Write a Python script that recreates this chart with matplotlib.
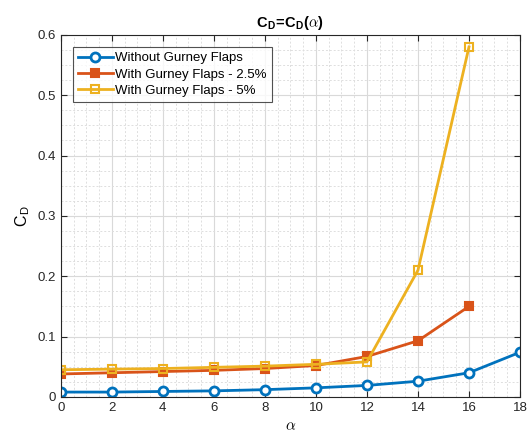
import matplotlib
matplotlib.use("Agg")
import matplotlib.pyplot as plt
from matplotlib.ticker import MultipleLocator

plt.rcParams['font.family'] = ['Liberation Sans', 'DejaVu Sans']
plt.rcParams['mathtext.fontset'] = 'cm'

alpha = [0, 2, 4, 6, 8, 10, 12, 14, 16, 18]
cd_without = [0.008, 0.008, 0.009, 0.010, 0.012, 0.015, 0.019, 0.026, 0.040, 0.074]
alpha_gf = [0, 2, 4, 6, 8, 10, 12, 14, 16]
cd_gf25 = [0.038, 0.040, 0.042, 0.044, 0.047, 0.052, 0.067, 0.093, 0.150]
cd_gf5 = [0.045, 0.046, 0.047, 0.049, 0.051, 0.054, 0.058, 0.210, 0.580]
labels = ['Without Gurney Flaps', 'With Gurney Flaps - 2.5%', 'With Gurney Flaps - 5%']

fig = plt.figure(figsize=(5.29, 4.41), dpi=100)
ax = fig.add_axes([0.115, 0.10, 0.868, 0.821])

ax.plot(alpha, cd_without, '-o', color='#0072BD', lw=2, ms=6.5, mfc='white', mew=2, label=labels[0])
ax.plot(alpha_gf, cd_gf25, '-s', color='#D95319', lw=2, ms=5.5, mfc='#D95319', mew=1.5, label=labels[1])
ax.plot(alpha_gf, cd_gf5, '-s', color='#EDB120', lw=2, ms=5.5, mfc='none', mew=1.5, label=labels[2])

ax.set_xlim(0, 18)
ax.set_ylim(0, 0.6)
ax.xaxis.set_major_locator(MultipleLocator(2))
ax.xaxis.set_minor_locator(MultipleLocator(0.5))
ax.yaxis.set_major_locator(MultipleLocator(0.1))
ax.yaxis.set_minor_locator(MultipleLocator(0.025))
ax.set_yticks([0, 0.1, 0.2, 0.3, 0.4, 0.5, 0.6])
ax.set_yticklabels(['0', '0.1', '0.2', '0.3', '0.4', '0.5', '0.6'])

ax.grid(which='major', color='#d9d9d9', lw=0.8)
ax.grid(which='minor', color='#dedede', lw=0.7, ls=(0, (2, 2)))
ax.set_axisbelow(True)
ax.tick_params(which='both', direction='in', top=True, right=True, labelsize=9.5, colors='#262626')
ax.tick_params(which='major', length=4)
ax.tick_params(which='minor', length=0)
for s in ax.spines.values():
    s.set_color('#262626')
    s.set_linewidth(0.8)

ax.set_title(r'C$_\mathregular{D}$=C$_\mathregular{D}$($\alpha$)', fontsize=10.5, fontweight='bold')
ax.set_xlabel(r'$\alpha$', fontsize=11)
ax.set_ylabel(r'C$_\mathregular{D}$', fontsize=11.5)

leg = ax.legend(loc='upper left', fontsize=9.5, fancybox=False, edgecolor='#262626',
                handlelength=2.6, borderpad=0.4, labelspacing=0.3, handletextpad=0.2,
                bbox_to_anchor=(0.012, 0.985))
leg.get_frame().set_linewidth(0.8)

fig.savefig('out.png', dpi=100)
